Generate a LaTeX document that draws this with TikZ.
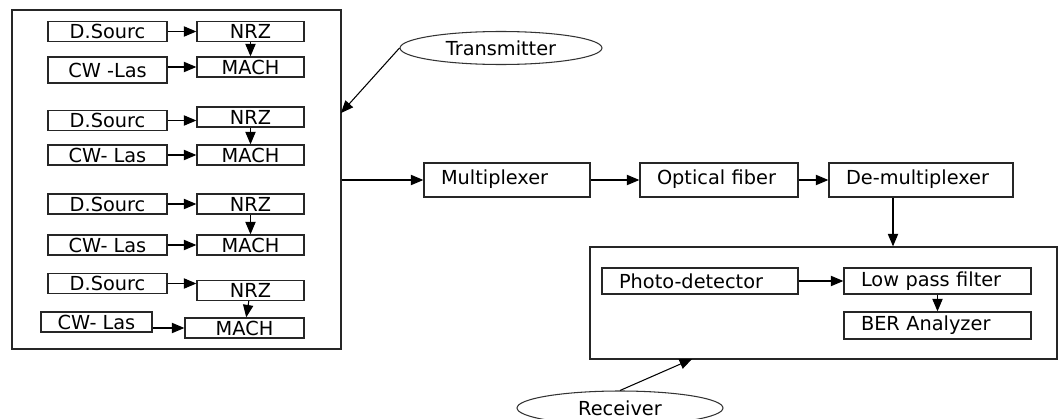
\documentclass[tikz,border=0pt]{standalone}
\usepackage{fontspec}
\setmainfont{DejaVu Sans}
\usepackage{tikz}
\usetikzlibrary{arrows}
\usetikzlibrary{shapes.geometric}
\tikzset{%
  myedge/.style={->, >=triangle 45, line width=0.6pt},
  blkbox/.style={rectangle, draw=black!85, line width=0.8pt, inner sep=0pt},
  lblock/.style={blkbox, inner xsep=0.34cm, align=left},
  srcbox/.style={blkbox, minimum width=2.38cm, minimum height=0.4cm},
  modbox/.style={blkbox, minimum width=2.14cm, minimum height=0.4cm},
  tagnode/.style={ellipse, draw=black!80, line width=0.6pt, inner sep=0pt}
}

\begin{document}
\begin{tikzpicture}[x=0.02cm, y=-0.02cm, font=\fontsize{11}{12}\selectfont]
  \useasboundingbox (0,0) rectangle (1059,419);
  % transmitter side
  \node[blkbox, minimum width=6.58cm, minimum height=6.78cm] (tx) at (176.5,179.5) {};
  \node[srcbox] (ds1) at (107.5,31.5) {D.Sourc};
  \node[modbox] (nrz1) at (250.5,31.5) {NRZ};
  \node[srcbox, minimum height=0.52cm] (cw1) at (107.5,70) {CW -Las};
  \node[modbox] (mach1) at (250.5,67) {MACH};
  \node[srcbox] (ds2) at (107.5,120.5) {D.Sourc};
  \node[modbox] (nrz2) at (250.5,117) {NRZ};
  \node[srcbox] (cw2) at (107.5,155) {CW- Las};
  \node[modbox] (mach2) at (250.5,155) {MACH};
  \node[srcbox] (ds3) at (107.5,204) {D.Sourc};
  \node[modbox] (nrz3) at (250.5,204) {NRZ};
  \node[srcbox] (cw3) at (107.5,245) {CW- Las};
  \node[modbox] (mach3) at (250.5,245) {MACH};
  \node[srcbox] (ds4) at (107.5,283.5) {D.Sourc};
  \node[modbox] (nrz4) at (250.5,290.5) {NRZ};
  \node[srcbox, minimum width=2.22cm] (cw4) at (96.5,322) {CW- Las};
  \node[modbox, minimum width=2.38cm] (mach4) at (244.5,328) {MACH};
  \draw [myedge] (ds1.east) -- (ds1.east -| nrz1.west);
  \draw [myedge] (nrz1) -- (mach1);
  \draw [myedge] (cw1.east |- mach1.west) -- (mach1.west);
  \draw [myedge] (ds2.east) -- (ds2.east -| nrz2.west);
  \draw [myedge] (nrz2) -- (mach2);
  \draw [myedge] (cw2.east |- mach2.west) -- (mach2.west);
  \draw [myedge] (ds3.east) -- (ds3.east -| nrz3.west);
  \draw [myedge] (nrz3) -- (mach3);
  \draw [myedge] (cw3.east |- mach3.west) -- (mach3.west);
  \draw [myedge] (ds4.east) -- (ds4.east -| nrz4.west);
  \draw [myedge] (nrz4) -- (mach4);
  \draw [myedge] (cw4.east |- mach4.west) -- (mach4.west);
  \node[tagnode, minimum width=4.04cm, minimum height=0.66cm] (txtag) at (501,48) {Transmitter};
  \coordinate (txin) at (341,113);
  \draw [myedge] (txtag.west) -- (txin);
  % link
  \node[lblock, text width=2.64cm, minimum height=0.68cm, text depth=0.12cm] (mux) at (507,180) {Multiplexer};
  \node[lblock, text width=2.48cm, minimum height=0.68cm, text depth=0.12cm] (fib) at (719,180) {Optical fiber};
  \node[lblock, text width=3.0cm, minimum height=0.68cm, text depth=0.12cm] (demux) at (921,180) {De-multiplexer};
  \draw [myedge] (tx.east |- mux.west) -- (mux.west);
  \draw [myedge] (mux) -- (fib);
  \draw [myedge] (fib) -- (demux);
  % receiver side
  \node[blkbox, minimum width=9.34cm, minimum height=2.24cm] (rx) at (823.5,303) {};
  \node[lblock, text width=3.24cm, minimum height=0.52cm] (pd) at (700,281) {Photo-detector};
  \node[lblock, text width=3.06cm, minimum height=0.52cm] (lpf) at (937.5,281) {Low pass filter};
  \node[lblock, text width=3.06cm, minimum height=0.54cm] (ber) at (937.5,325.5) {BER Analyzer};
  \draw [myedge] ([xshift=-0.56cm]demux.south) -- ([xshift=-0.56cm]demux.south |- rx.north);
  \draw [myedge] (pd) -- (lpf);
  \draw [myedge] (lpf) -- (ber);
  \node[tagnode, minimum width=4.12cm, minimum height=0.68cm] (rxtag) at (620,408) {Receiver};
  \coordinate (rxin) at (692,359);
  \draw [myedge] (rxtag.north) -- (rxin);
\end{tikzpicture}
\end{document}
